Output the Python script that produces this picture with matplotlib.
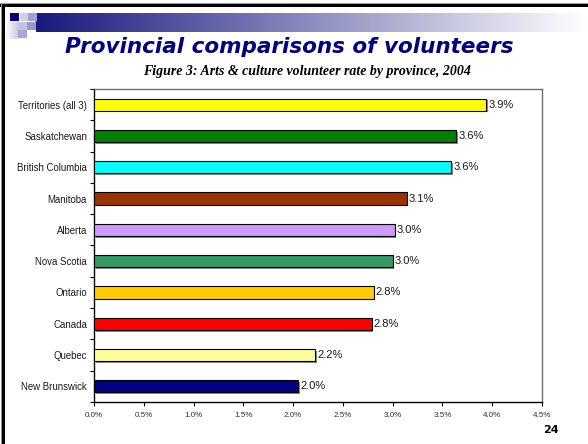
import numpy as np
import matplotlib
matplotlib.use("Agg")
import matplotlib.pyplot as plt
import matplotlib.patheffects as pe
from matplotlib.patches import Rectangle
from matplotlib.ticker import FuncFormatter

# Arts & culture volunteer rate by province, 2004 (top to bottom)
categories = ["Territories (all 3)", "Saskatchewan", "British Columbia", "Manitoba",
              "Alberta", "Nova Scotia", "Ontario", "Canada", "Quebec", "New Brunswick"]
rates = [3.94, 3.64, 3.59, 3.14, 3.02, 3.00, 2.81, 2.79, 2.22, 2.05]
bar_colors = ["#FFFF00", "#008000", "#00FFFF", "#993300", "#CC99FF",
              "#339966", "#FFCC00", "#FF0000", "#FFFF99", "#000080"]
x_ticks = [0.0, 0.5, 1.0, 1.5, 2.0, 2.5, 3.0, 3.5, 4.0, 4.5]

W, H = 588, 444
fig = plt.figure(figsize=(W / 100, H / 100), dpi=100)
fig.patch.set_facecolor("white")

def px(x0, y0, w, h):
    """Pixel box (from top-left) to figure fraction rectangle."""
    return (x0 / W, 1 - (y0 + h) / H, w / W, h / H)

# Slide decoration: frame lines, gradient band and squares
deco = fig.add_axes([0, 0, 1, 1])
deco.axis("off")
deco.add_patch(Rectangle((0, 3), W, 1.2, color="#9a9a9a", lw=0))
deco.add_patch(Rectangle((0, 4.2), W, 3, color="black", lw=0))
deco.add_patch(Rectangle((1, 4), 1.2, H, color="#9a9a9a", lw=0))
deco.add_patch(Rectangle((2.2, 4), 3, H, color="black", lw=0))

grad = np.linspace(0, 1, 256)
navy = np.array([0.10, 0.10, 0.50])
white = np.array([1.0, 1.0, 1.0])
band = (navy[None, :] * (1 - grad[:, None]) + white[None, :] * grad[:, None])[None, :, :]
deco.imshow(band, extent=(36, W, 32, 13), aspect="auto", zorder=1)
lgrad = np.linspace(0, 1, 64)
lband = (white[None, :] * (1 - lgrad[:, None]) + np.array([0.80, 0.80, 0.88])[None, :] * lgrad[:, None])[None, :, :]
deco.imshow(lband, extent=(5, 18, 39, 22), aspect="auto", zorder=1)
squares = [(10, 13, "#000080"), (20, 13, "#d0d0ea"), (28, 13, "#a0a0d2"),
           (18, 22, "#c4c4e4"), (27, 22, "#9898cc"), (18, 30, "#a8a8d6")]
for sx, sy, sc in squares:
    deco.add_patch(Rectangle((sx, sy), 8.5, 8.5, color=sc, lw=0, zorder=2))
deco.set_xlim(0, W)
deco.set_ylim(H, 0)

fig.text(289 / W, 1 - 47 / H, "Provincial comparisons of volunteers",
         ha="center", va="center", fontsize=15.5, fontweight="bold", style="italic",
         color="#000080", family="DejaVu Sans")
fig.text(307 / W, 1 - 72 / H, "Figure 3: Arts & culture volunteer rate by province, 2004",
         ha="center", va="center", fontsize=10, fontweight="bold", style="italic",
         color="black", family="Liberation Serif")
fig.text(551 / W, 1 - 430 / H, "24", ha="center", va="center", fontsize=8,
         fontweight="bold", color="black", family="DejaVu Sans")

# Bar chart
ax = fig.add_axes(px(94, 89, 448, 313))
y = np.arange(len(categories))
bars = ax.barh(y, rates, height=0.39, color=bar_colors, edgecolor="black",
               linewidth=0.8, zorder=3)
for b in bars:
    b.set_path_effects([pe.SimplePatchShadow(offset=(1.2, -1.2), shadow_rgbFace="#888888",
                                             alpha=1.0), pe.Normal()])
for yi, v in zip(y, rates):
    ax.text(v + 0.02, yi, f"{v:.1f}%", va="center", ha="left", fontsize=8,
            family="Liberation Sans", color="#1a1a1a")

ax.set_ylim(len(categories) - 0.5, -0.5)
ax.set_xlim(0, 4.5)
ax.set_yticks(y)
ax.set_yticklabels(categories, family="Liberation Sans", fontsize=6.9, color="#1a1a1a")
ax.set_yticks(np.arange(-0.5, len(categories), 1.0), minor=True)
ax.tick_params(axis="y", which="major", length=0, pad=5)
ax.tick_params(axis="y", which="minor", length=3, width=0.8, direction="out")
ax.set_xticks(x_ticks)
ax.xaxis.set_major_formatter(FuncFormatter(lambda v, p: f"{v:.1f}%"))
ax.tick_params(axis="x", length=3, width=0.8, labelsize=5.8, labelcolor="#333333", pad=4)
for lab in ax.get_xticklabels():
    lab.set_family("Liberation Sans")
for side in ("left", "bottom"):
    ax.spines[side].set_color("black")
    ax.spines[side].set_linewidth(1.0)
for side in ("top", "right"):
    ax.spines[side].set_color("#707070")
    ax.spines[side].set_linewidth(1.0)

fig.savefig("out.png", dpi=100, facecolor="white")
